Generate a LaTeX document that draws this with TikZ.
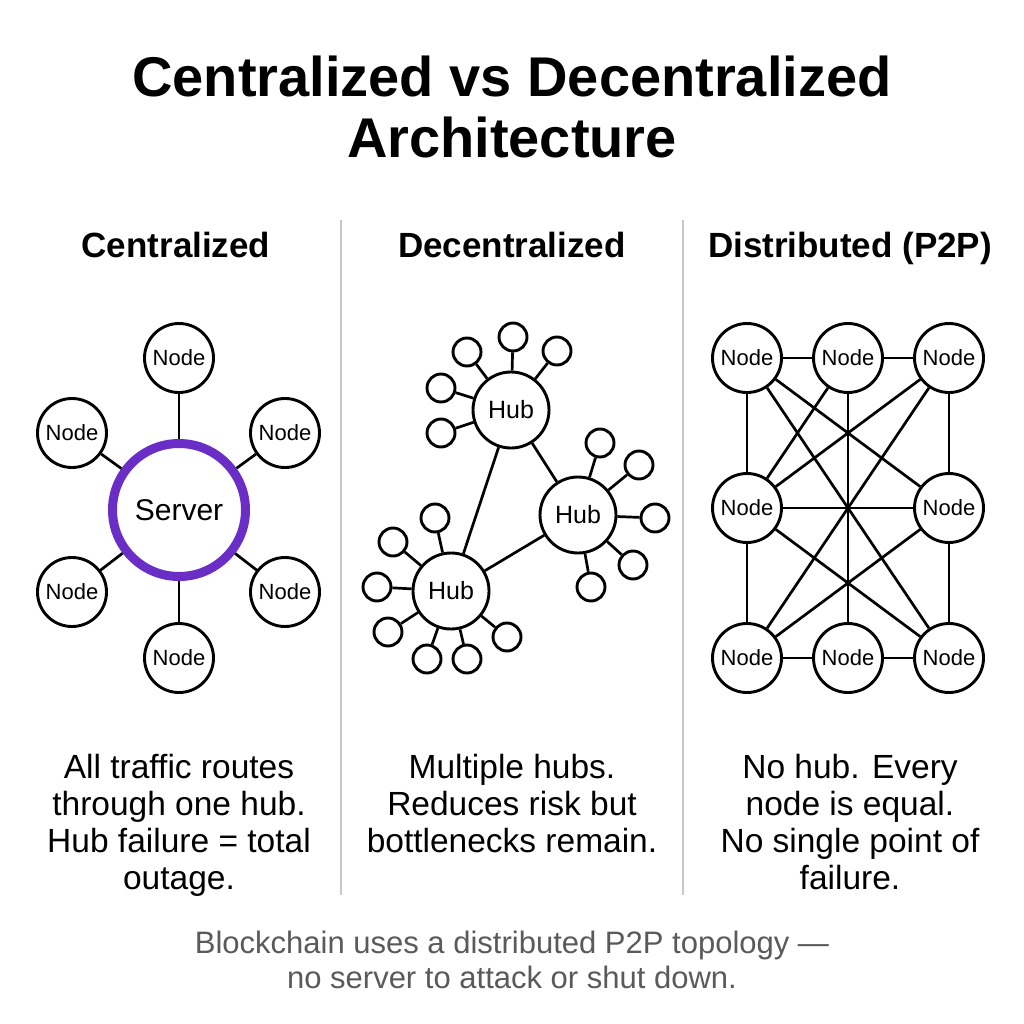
\documentclass[tikz,border=0pt]{standalone}
\usepackage{fontspec}
\setmainfont{Liberation Sans}
\definecolor{srvpurple}{RGB}{106,46,198}
\definecolor{divgray}{RGB}{200,200,200}
\definecolor{notegray}{RGB}{90,90,90}
\tikzset{
  pnode/.style={circle,draw=black,line width=2.9pt,fill=white,minimum size=69pt,inner sep=0pt,font=\fontsize{22}{24}\selectfont},
  hubnode/.style={circle,draw=black,line width=2.9pt,fill=white,minimum size=76pt,inner sep=0pt,font=\fontsize{25}{27}\selectfont},
  satnode/.style={circle,draw=black,line width=2.9pt,fill=white,minimum size=28pt,inner sep=0pt},
  servernode/.style={circle,draw=srvpurple,line width=9pt,fill=white,minimum size=133pt,inner sep=0pt,font=\fontsize{30}{32}\selectfont},
  link/.style={draw=black,line width=2.7pt},
  divider/.style={draw=divgray,line width=1.6pt},
  heading/.style={font=\bfseries\fontsize{35}{40}\selectfont,anchor=base},
  desc/.style={font=\fontsize{33.5}{37}\selectfont,align=center,anchor=north},
  titletext/.style={font=\bfseries\fontsize{56}{61}\selectfont,align=center,anchor=north},
  notetext/.style={font=\fontsize{31}{35}\selectfont,align=center,anchor=north,text=notegray}
}
\begin{document}
\begin{tikzpicture}[x=1pt,y=-1pt]
\useasboundingbox (0,0) rectangle (1024,1024);
% title
\node[titletext] (title) at (512,52) {Centralized vs Decentralized\\Architecture};
% dividers
\coordinate (d1a) at (341,220); \coordinate (d1b) at (341,895);
\coordinate (d2a) at (683,220); \coordinate (d2b) at (683,895);
\draw[divider] (d1a) -- (d1b);
\draw[divider] (d2a) -- (d2b);
% headings
\node[heading] (h1) at (176,258) {Centralized};
\node[heading] (h2) at (512,258) {Decentralized};
\node[heading] (h3) at (850,258) {Distributed (P2P)};

% ---------- Centralized ----------
\node[servernode] (srv) at (179,510) {Server};
\node[pnode] (c1) at (179,358) {Node};
\node[pnode] (c2) at (285,433) {Node};
\node[pnode] (c3) at (285,592) {Node};
\node[pnode] (c4) at (179,658) {Node};
\node[pnode] (c5) at (72,592) {Node};
\node[pnode] (c6) at (72,433) {Node};
\foreach \n in {c1,c2,c3,c4,c5,c6} \draw[link] (srv) -- (\n);

% ---------- Decentralized ----------
\node[hubnode] (ha) at (511,410) {Hub};
\node[hubnode] (hb) at (578,515) {Hub};
\node[hubnode] (hc) at (451,591) {Hub};
\draw[link] (ha) -- (hb);
\draw[link] (ha) -- (hc);
\draw[link] (hb) -- (hc);
% satellites of hub a
\node[satnode] (a1) at (513,337) {};
\node[satnode] (a2) at (557,351) {};
\node[satnode] (a3) at (467,352) {};
\node[satnode] (a4) at (441,388) {};
\node[satnode] (a5) at (441,433) {};
\foreach \n in {a1,a2,a3,a4,a5} \draw[link] (ha) -- (\n);
% satellites of hub b
\node[satnode] (b1) at (600,443) {};
\node[satnode] (b2) at (639,465) {};
\node[satnode] (b3) at (655,518) {};
\node[satnode] (b4) at (633,565) {};
\node[satnode] (b5) at (591,587) {};
\foreach \n in {b1,b2,b3,b4,b5} \draw[link] (hb) -- (\n);
% satellites of hub c
\node[satnode] (s1) at (435,518) {};
\node[satnode] (s2) at (393,542) {};
\node[satnode] (s3) at (377,587) {};
\node[satnode] (s4) at (388,632) {};
\node[satnode] (s5) at (427,659) {};
\node[satnode] (s6) at (467,659) {};
\node[satnode] (s7) at (507,637) {};
\foreach \n in {s1,s2,s3,s4,s5,s6,s7} \draw[link] (hc) -- (\n);

% ---------- Distributed ----------
\node[pnode] (tl) at (747,358) {Node};
\node[pnode] (tm) at (848,358) {Node};
\node[pnode] (tr) at (949,358) {Node};
\node[pnode] (ml) at (747,508) {Node};
\node[pnode] (mr) at (949,508) {Node};
\node[pnode] (bl) at (747,658) {Node};
\node[pnode] (bm) at (848,658) {Node};
\node[pnode] (br) at (949,658) {Node};
\foreach \a/\b in {tl/tm,tm/tr,bl/bm,bm/br,tl/ml,ml/bl,tr/mr,mr/br,tm/bm,ml/mr,tl/br,tr/bl,tl/mr,tr/ml,tm/ml,ml/br,mr/bl}
  \draw[link] (\a) -- (\b);

% descriptions
\node[desc] (t1) at (179,751) {All traffic routes\\through one hub.\\Hub failure = total\\outage.};
\node[desc] (t2) at (512,751) {Multiple hubs.\\Reduces risk but\\bottlenecks remain.};
\node[desc] (t3) at (850,751) {No hub. Every\\node is equal.\\No single point of\\failure.};
% footnote
\node[notetext] (note) at (512,927) {Blockchain uses a distributed P2P topology —\\no server to attack or shut down.};
\end{tikzpicture}
\end{document}
